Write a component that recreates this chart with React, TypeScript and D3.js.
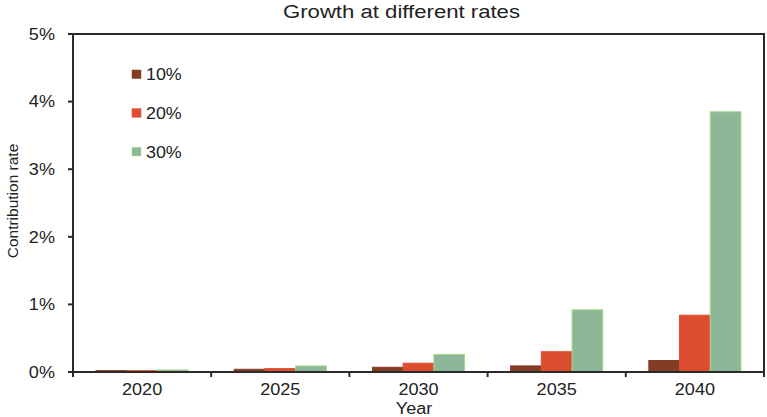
import * as d3 from 'd3'

const years = ['2020', '2025', '2030', '2035', '2040']
const seriesNames = ['10%', '20%', '30%']
const rate10 = [0.02, 0.04, 0.07, 0.09, 0.17]
const rate20 = [0.02, 0.05, 0.13, 0.3, 0.84]
const rate30 = [0.03, 0.09, 0.26, 0.92, 3.85]
const yTicks = [0, 1, 2, 3, 4, 5]

const colors = ['#843c24', '#dd4e30', '#8db797']
const strokes = ['#843c24', '#dd4e30', '#a6d98f']

const width = 767
const height = 417
const marginTop = 34
const marginRight = 3
const marginBottom = 45
const marginLeft = 73
const font = 'Liberation Sans, Arial, sans-serif'
const ink = '#222'

// text stretched horizontally, the source image is a bit wider than tall
function SText({
  x,
  y,
  size,
  anchor = 'start',
  sx = 1.13,
  dy,
  children,
}: {
  x: number
  y: number
  size: number
  anchor?: 'start' | 'middle' | 'end'
  sx?: number
  dy?: string
  children: React.ReactNode
}) {
  return (
    <text
      transform={`translate(${x},${y}) scale(${sx},1)`}
      textAnchor={anchor}
      fontSize={size}
      dy={dy}
      fill={ink}
    >
      {children}
    </text>
  )
}

export default function App() {
  const series = [rate10, rate20, rate30]
  const x = d3.scaleBand(years, [marginLeft, width - marginRight])
  const inner = d3.scaleBand(seriesNames, [0, x.bandwidth()]).paddingOuter(0.75)
  const y = d3.scaleLinear([0, 5], [height - marginBottom, marginTop])
  const x0 = marginLeft
  const x1 = width - marginRight
  const yBottom = y(0)
  const boundaries = years.map((yr) => x(yr)!).concat([x1])

  return (
    <svg
      width={width}
      height={height}
      style={{ position: 'absolute', left: 0, top: 0, display: 'block' }}
      fontFamily={font}
    >
      <rect width={width} height={height} fill="white" />
      <text
        x={283}
        y={18}
        fontSize={18}
        fill={ink}
        textLength={237}
        lengthAdjust="spacingAndGlyphs"
      >
        Growth at different rates
      </text>

      {series.map((values, si) => (
        <g key={si} fill={colors[si]} stroke={strokes[si]} strokeWidth={1}>
          {values.map((v, i) => (
            <rect
              key={i}
              x={x(years[i])! + inner(seriesNames[si])!}
              y={y(v)}
              width={inner.bandwidth()}
              height={yBottom - y(v)}
            />
          ))}
        </g>
      ))}

      <rect
        x={x0}
        y={marginTop}
        width={x1 - x0}
        height={yBottom - marginTop}
        fill="none"
        stroke="#2a2a2a"
        strokeWidth={2}
      />

      {yTicks.map((t) => (
        <g key={t}>
          <line x1={x0 - 5} x2={x0} y1={y(t)} y2={y(t)} stroke="#2a2a2a" strokeWidth={2} />
          <SText x={x0 - 18} y={y(t)} dy="0.36em" anchor="end" size={16}>
            {t}%
          </SText>
        </g>
      ))}

      {boundaries.map((bx, i) => (
        <line key={i} x1={bx} x2={bx} y1={yBottom} y2={yBottom + 5} stroke="#2a2a2a" strokeWidth={2} />
      ))}
      {years.map((yr) => (
        <SText key={yr} x={x(yr)! + x.bandwidth() / 2} y={yBottom + 23} anchor="middle" size={16}>
          {yr}
        </SText>
      ))}

      <SText x={414} y={414} anchor="middle" size={16}>
        Year
      </SText>
      <text
        transform={`translate(18,201) rotate(-90)`}
        textAnchor="middle"
        fontSize={15.5}
        fill={ink}
      >
        Contribution rate
      </text>

      {seriesNames.map((name, si) => (
        <g key={name} transform={`translate(132,${74 + si * 38.7})`}>
          <rect x={0} y={-4} width={9} height={8.5} fill={colors[si]} stroke={strokes[si]} strokeWidth={0.5} />
          <SText x={14} y={0} dy="0.36em" size={17} sx={1.05}>
            {name}
          </SText>
        </g>
      ))}
    </svg>
  )
}
